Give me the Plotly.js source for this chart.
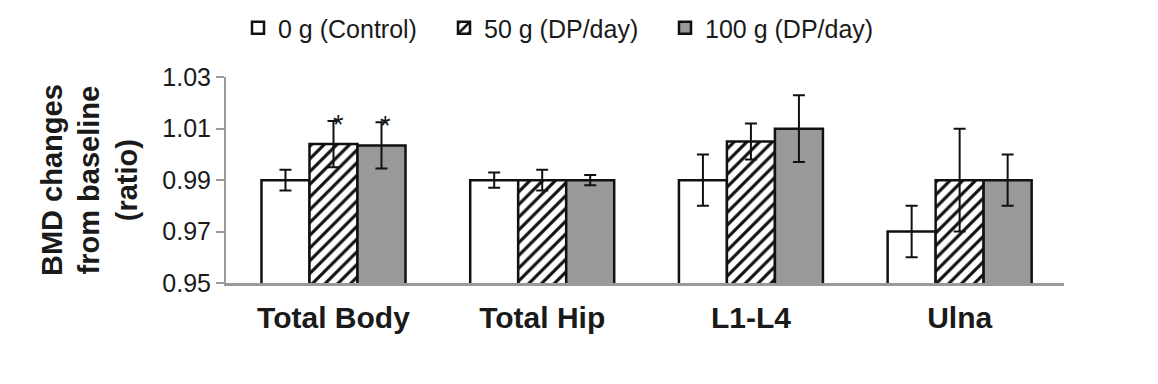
<!DOCTYPE html>
<html>
<head>
<meta charset="utf-8">
<script src="https://cdn.plot.ly/plotly-3.0.1.min.js"></script>
<style>html,body{margin:0;padding:0;background:#fff;}#chart{width:1158px;height:384px;}</style>
</head>
<body>
<div id="chart"></div>
<script>
// ---- data ----
const categories = ["Total Body", "Total Hip", "L1-L4", "Ulna"];
const seriesNames = ["0 g (Control)", "50 g (DP/day)", "100 g (DP/day)"];
const control = [0.990, 0.990, 0.990, 0.970];
const controlErr = [0.004, 0.003, 0.010, 0.010];
const dp50 = [1.004, 0.990, 1.005, 0.990];
const dp50Err = [0.009, 0.004, 0.007, 0.020];
const dp100 = [1.0035, 0.990, 1.010, 0.990];
const dp100Err = [0.009, 0.002, 0.013, 0.010];
const sig50 = ["*", "", "", ""];
const sig100 = ["*", "", "", ""];
const yTicks = [0.95, 0.97, 0.99, 1.01, 1.03];

const FONT = '"Liberation Sans", Arial, Helvetica, sans-serif';
const TXT = '#1a1a1a';
const bargap = 0.31;
const barW = (1 - bargap) / 3;

function barTrace(name, y, err, fill, pattern, legendId) {
  const t = {
    type: 'bar', name: name, x: categories, y: y,
    base: 0,
    marker: { color: fill, line: { color: '#111', width: 2.5 } },
    error_y: { type: 'data', array: err, visible: true, color: '#111', thickness: 2, width: 6 },
    legend: legendId,
    hoverinfo: 'x+y'
  };
  if (pattern) t.marker.pattern = pattern;
  return t;
}

const data = [
  barTrace(seriesNames[0], control, controlErr, '#ffffff', null, 'legend'),
  barTrace(seriesNames[1], dp50, dp50Err, '#ffffff',
    { shape: '/', fgcolor: '#111', bgcolor: '#ffffff', size: 9, solidity: 0.35 }, 'legend2'),
  barTrace(seriesNames[2], dp100, dp100Err, '#999999', null, 'legend3')
];

// significance asterisks, placed above the error bars through the data axes
const annotations = [];
categories.forEach((c, i) => {
  if (sig50[i]) annotations.push({ x: i, y: dp50[i] + dp50Err[i], xref: 'x', yref: 'y', text: sig50[i],
    showarrow: false, xshift: 5, yshift: -4, yanchor: 'middle', font: { family: FONT, size: 27, color: TXT } });
  if (sig100[i]) annotations.push({ x: i + barW, y: dp100[i] + dp100Err[i], xref: 'x', yref: 'y', text: sig100[i],
    showarrow: false, xshift: 4, yshift: -4, yanchor: 'middle', font: { family: FONT, size: 27, color: TXT } });
});

function legendAt(xpx) {
  return { orientation: 'h', xref: 'container', yref: 'container', x: xpx / 1158, y: 1 - 28 / 384,
    xanchor: 'left', yanchor: 'middle', font: { family: FONT, size: 25, color: TXT },
    bgcolor: 'rgba(0,0,0,0)', borderwidth: 0 };
}

const layout = {
  width: 1158, height: 384,
  margin: { l: 226, r: 94, t: 76, b: 101, pad: 0 },
  paper_bgcolor: '#ffffff', plot_bgcolor: '#ffffff',
  font: { family: FONT, color: TXT },
  barmode: 'group', bargap: bargap, bargroupgap: 0,
  showlegend: true,
  legend: legendAt(238),
  legend2: legendAt(444),
  legend3: legendAt(665),
  xaxis: {
    type: 'category', range: [-0.515, 3.5],
    showline: true, linecolor: '#9a9a9a', linewidth: 2.5,
    ticks: '', showgrid: false, zeroline: false,
    tickfont: { family: FONT, size: 30, color: TXT, weight: 'bold' },
    ticklabelstandoff: 6
  },
  yaxis: {
    range: [0.95, 1.03], tickvals: yTicks, ticktext: yTicks.map(v => v.toFixed(2)),
    showline: true, linecolor: '#9a9a9a', linewidth: 2,
    ticks: 'outside', ticklen: 8, tickwidth: 2, tickcolor: '#9a9a9a',
    showgrid: false, zeroline: false,
    tickfont: { family: FONT, size: 25, color: TXT },
    title: { text: 'BMD changes<br>from baseline<br>(ratio)', font: { family: FONT, size: 29, color: TXT, weight: 'bold' }, standoff: 16 },
    automargin: true
  },
  annotations: annotations
};

Plotly.newPlot('chart', data, layout, { displayModeBar: false, staticPlot: true });
</script>
</body>
</html>
